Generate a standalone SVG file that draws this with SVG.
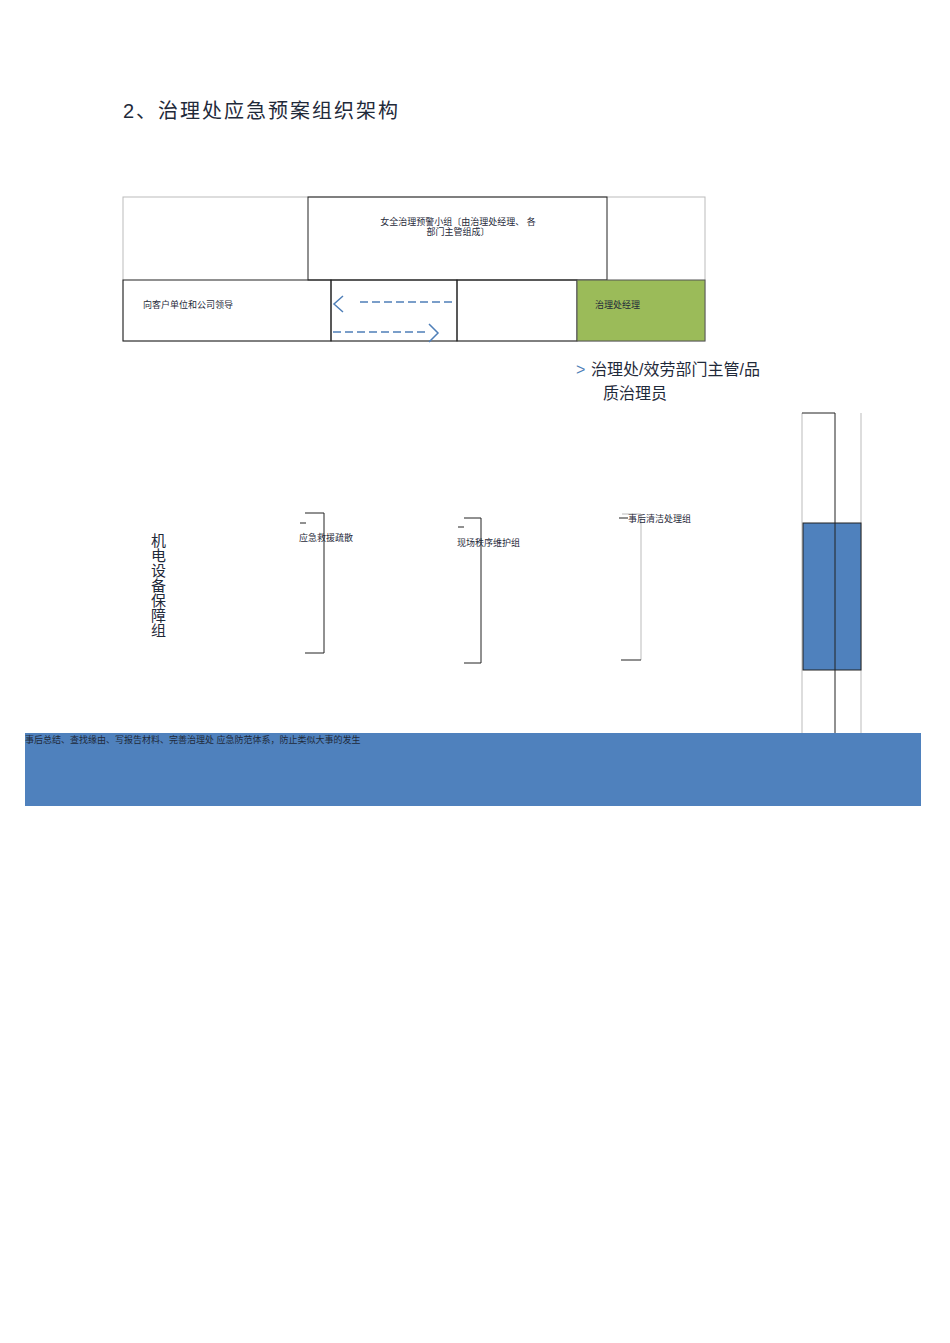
<svg xmlns="http://www.w3.org/2000/svg" width="950" height="1343" viewBox="0 0 950 1343">
<style>
text{font-family:"Liberation Sans","Noto Sans CJK SC",sans-serif;fill:#1f2a3a}
.s{font-size:9px}
.v{font-size:15px}
.b{fill:none;stroke:#222;stroke-width:1}
.g{fill:none;stroke:#bbb;stroke-width:1}
.d{stroke:#4f7fb8;stroke-width:1.5;fill:none}
</style>
<rect width="950" height="1343" fill="#fff"/>
<text x="123" y="118" font-size="20" letter-spacing="2">2、治理处应急预案组织架构</text>
<g id="outer"><rect class="g" x="123" y="197" width="582" height="144"/></g>
<g id="n-safety"><rect class="b" x="308" y="197" width="299" height="83"/>
<text class="s" x="458" y="225" text-anchor="middle">女全治理预警小组〔由治理处经理、 各</text>
<text class="s" x="458" y="235" text-anchor="middle">部门主管组成〕</text></g>
<g id="n-client"><rect class="b" x="123" y="280" width="208" height="61"/><text class="s" x="143" y="308">向客户单位和公司领导</text></g>
<g id="n-mid"><rect class="b" x="331" y="280" width="126" height="61"/><rect class="b" x="457" y="280" width="120" height="61"/></g>
<g id="n-manager"><rect x="577" y="280" width="128" height="61" fill="#9bbb59" stroke="#555"/><text class="s" x="595" y="308">治理处经理</text></g>
<g id="connectors">
<path class="d" d="M343 296 L334 304 L343 312"/>
<line class="d" x1="360" y1="302" x2="453" y2="302" stroke-dasharray="8,4"/>
<line class="d" x1="333" y1="332" x2="425" y2="332" stroke-dasharray="8,4"/>
<path class="d" d="M429 324 L438 333 L429 342"/>
<line class="b" x1="305" y1="513" x2="324" y2="513"/><line class="b" x1="324" y1="513" x2="324" y2="653"/><line class="b" x1="305" y1="653" x2="324" y2="653"/>
<line class="b" x1="300" y1="523" x2="306" y2="523"/>
<line class="b" x1="464" y1="518" x2="481" y2="518"/><line class="b" x1="481" y1="518" x2="481" y2="663"/><line class="b" x1="464" y1="663" x2="481" y2="663"/>
<line class="b" x1="458" y1="527" x2="464" y2="527"/>
<line class="g" x1="622" y1="514" x2="641" y2="514"/><line class="g" x1="641" y1="514" x2="641" y2="660"/><line class="b" x1="621" y1="660" x2="641" y2="660"/>
<line class="b" x1="619" y1="518" x2="628" y2="518"/>
<line class="g" x1="802" y1="413" x2="802" y2="733"/><line class="g" x1="861" y1="413" x2="861" y2="733"/>
<line class="b" x1="802" y1="413" x2="835" y2="413"/>
</g>
<g id="n-blue"><rect x="803" y="523" width="58" height="147" fill="#4f81bd" stroke="#222"/></g>
<line class="b" x1="835" y1="413" x2="835" y2="733"/>
<g id="n-lbl"><text x="576" y="375" font-size="16" style="fill:#4f7fb8">&gt;</text><text x="591" y="375" font-size="16">治理处/效劳部门主管/品</text><text x="603" y="399" font-size="16">质治理员</text></g>
<g id="n-jd"><text class="v" x="151" y="546">机</text><text class="v" x="151" y="561">电</text><text class="v" x="151" y="576">设</text><text class="v" x="151" y="591">备</text><text class="v" x="151" y="606">保</text><text class="v" x="151" y="621">障</text><text class="v" x="151" y="636">组</text></g>
<text class="s" x="299" y="541">应急救援疏散</text>
<text class="s" x="457" y="546">现场秩序维护组</text>
<text class="s" x="628" y="522">事后清洁处理组</text>
<g id="n-bottom"><rect x="25" y="733" width="896" height="73" fill="#4f81bd"/><text class="s" x="25" y="743">事后总结、查找缘由、写报告材料、完善治理处 应急防范体系，防止类似大事的发生</text></g>
</svg>
